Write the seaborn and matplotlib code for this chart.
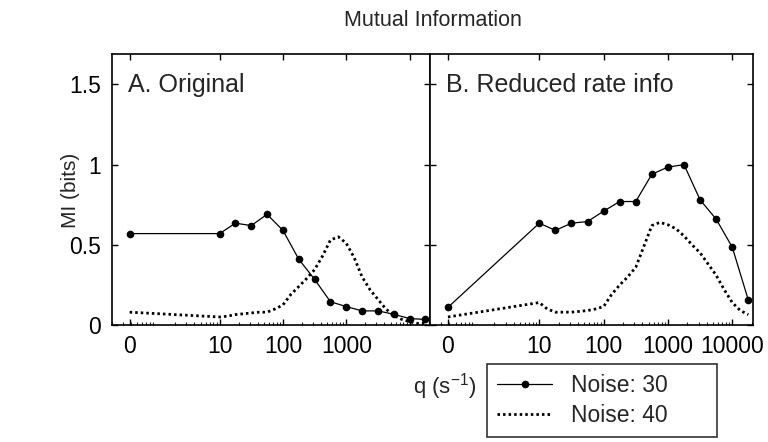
import numpy as np
import pandas as pd
import matplotlib
matplotlib.use("Agg")
import matplotlib.pyplot as plt
import seaborn as sns
from matplotlib.ticker import FixedLocator, FixedFormatter, LogLocator, NullFormatter

# q values (s^-1) for the sampled noise-30 curves (quarter-decade steps)
q_coarse = [0, 10, 17.8, 31.6, 56.2, 100, 178, 316, 562, 1000, 1778, 3162, 5623, 10000, 17783]
# q values for the finer noise-40 curves (eighth-decade steps)
q_fine = [0, 10, 13.3, 17.8, 23.7, 31.6, 42.2, 56.2, 75.0, 100, 133, 178, 237, 316, 422, 562,
          750, 1000, 1334, 1778, 2371, 3162, 4217, 5623, 7499, 10000, 13335, 17783]

# Panel A: original spike trains
orig_noise30 = [0.57, 0.57, 0.635, 0.62, 0.69, 0.59, 0.41, 0.285, 0.145, 0.115, 0.088, 0.088,
                0.067, 0.04, 0.035]
orig_noise40 = [0.08, 0.05, 0.055, 0.065, 0.07, 0.075, 0.08, 0.08, 0.10, 0.125, 0.19, 0.24, 0.29,
                0.345, 0.43, 0.53, 0.55, 0.51, 0.42, 0.30, 0.22, 0.16, 0.10, 0.06, 0.035, 0.02,
                0.01, 0.01]

# Panel B: reduced rate information
red_noise30 = [0.11, 0.635, 0.59, 0.635, 0.645, 0.71, 0.77, 0.77, 0.94, 0.985, 1.0, 0.78, 0.66,
               0.485, 0.155]
red_noise40 = [0.05, 0.14, 0.10, 0.08, 0.08, 0.08, 0.085, 0.09, 0.10, 0.115, 0.19, 0.25, 0.30,
               0.36, 0.49, 0.62, 0.64, 0.625, 0.60, 0.555, 0.50, 0.45, 0.38, 0.31, 0.22, 0.14,
               0.09, 0.065]

x_tick_values = [0, 10, 100, 1000, 10000]
x_tick_labels_a = ["0", "10", "100", "1000", ""]
x_tick_labels_b = ["0", "10", "100", "1000", "10000"]
y_tick_values = [0, 0.5, 1, 1.5]
y_tick_labels = ["0", "0.5", "1", "1.5"]
panel_titles = ["A. Original", "B. Reduced rate info"]
series_names = ["Noise: 30", "Noise: 40"]

# q = 0 cannot sit on a log axis, so it is shown at this position with the label "0"
ZERO_POS = 0.38


def to_axis(q):
    return [ZERO_POS if v == 0 else v for v in q]


sns.set_style("ticks")
plt.rcParams["font.family"] = ["Liberation Sans", "DejaVu Sans"]
plt.rcParams["mathtext.fontset"] = "custom"
plt.rcParams["mathtext.rm"] = "Liberation Sans"

fig = plt.figure(figsize=(7.68, 4.42), dpi=100)
ax_a = fig.add_axes([112 / 768, 1 - 325 / 442, 318 / 768, 271 / 442])
ax_b = fig.add_axes([430 / 768, 1 - 325 / 442, 323 / 768, 271 / 442], sharey=ax_a)

TICK_FS = 16.5
PANEL_FS = 18
panels = [
    (ax_a, orig_noise30, orig_noise40, x_tick_labels_a, panel_titles[0]),
    (ax_b, red_noise30, red_noise40, x_tick_labels_b, panel_titles[1]),
]

for ax, s30, s40, xlabels, ptitle in panels:
    df30 = pd.DataFrame({"q": to_axis(q_coarse), "MI": s30})
    df40 = pd.DataFrame({"q": to_axis(q_fine), "MI": s40})
    sns.lineplot(data=df30, x="q", y="MI", ax=ax, color="black", lw=0.9, marker="o",
                 markersize=5.5, markeredgewidth=0, sort=False, label=series_names[0],
                 legend=False)
    sns.lineplot(data=df40, x="q", y="MI", ax=ax, color="black", lw=2.0,
                 linestyle=(0, (0.9, 1.1)), sort=False, label=series_names[1], legend=False)
    ax.set_xscale("log")
    ax.set_xlim(0.2, 21000)
    ax.set_ylim(0, 1.69)
    ax.xaxis.set_major_locator(FixedLocator(to_axis(x_tick_values)))
    ax.xaxis.set_major_formatter(FixedFormatter(xlabels))
    ax.xaxis.set_minor_locator(LogLocator(base=10, subs=np.arange(2, 10), numticks=20))
    ax.xaxis.set_minor_formatter(NullFormatter())
    ax.set_xlabel("")
    ax.set_ylabel("")
    for side in ["top", "right", "left", "bottom"]:
        ax.spines[side].set_visible(True)
        ax.spines[side].set_linewidth(1.2)
        ax.spines[side].set_color("black")
    ax.tick_params(axis="both", which="major", direction="in", length=4, width=1,
                   top=True, right=True, labelsize=TICK_FS, colors="black")
    ax.tick_params(axis="x", which="major", pad=7)
    ax.tick_params(axis="x", which="minor", direction="in", length=2.5, width=0.8,
                   top=False, bottom=True)
    ax.tick_params(axis="y", which="major", pad=8)
    ax.text(0.05, 0.885, ptitle, transform=ax.transAxes, fontsize=PANEL_FS, ha="left",
            va="center")

ax_a.set_yticks(y_tick_values)
ax_a.set_yticklabels(y_tick_labels)
ax_b.tick_params(axis="y", labelleft=False)

fig.text(433 / 768, 1 - 20 / 442, "Mutual Information", fontsize=15.5, ha="center",
         va="center")
fig.text(70 / 768, 1 - 190 / 442, "MI (bits)", fontsize=15, rotation=90, ha="center",
         va="center")
fig.text(445 / 768, 1 - 387 / 442, r"q (s$^{-1}$)", fontsize=16, ha="center", va="center")

handles, labels = ax_a.get_legend_handles_labels()
leg = fig.legend(handles, labels, loc="lower left",
                 bbox_to_anchor=(487 / 768, 5 / 442, 230 / 768, 73 / 442), mode="expand",
                 fontsize=16.5, frameon=True, fancybox=False, handlelength=2.4,
                 borderaxespad=0, labelspacing=0.3, handletextpad=0.8, borderpad=0.45)
leg.get_frame().set_edgecolor("black")
leg.get_frame().set_linewidth(1.2)

fig.savefig("out.png", dpi=100, facecolor="white")
